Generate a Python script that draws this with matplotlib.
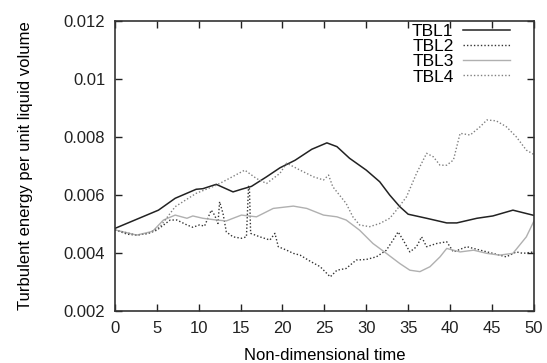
import matplotlib
matplotlib.use("Agg")
import matplotlib.pyplot as plt

plt.rcParams['font.family'] = ['Liberation Sans', 'DejaVu Sans']

# TBL1 (solid)
t1 = [0, 5.2, 7.2, 9.7, 10.5, 12.1, 14.1, 15.1, 16.3, 18.1, 19.7, 21.5, 23.5, 25.3, 26.5,
      28.0, 30.0, 31.6, 32.8, 34.0, 35.0, 37.2, 39.6, 40.8, 43.2, 45.1, 47.5, 50]
v1 = [0.00485, 0.00548, 0.00589, 0.0062, 0.00622, 0.00637, 0.00611, 0.0062, 0.0063, 0.00663,
      0.00694, 0.0072, 0.00758, 0.0078, 0.00767, 0.00727, 0.00686, 0.00646, 0.0060, 0.0056,
      0.00534, 0.0052, 0.00504, 0.00504, 0.0052, 0.00528, 0.00548, 0.0053]

# TBL2 (dark dotted)
t2 = [0, 1.5, 2.6, 4.0, 5.0, 6.6, 7.4, 8.6, 9.3, 10.1, 10.7, 11.5, 11.9, 12.3, 12.5, 12.9,
      13.3, 14.1, 15.1, 15.7, 15.95, 16.05, 16.2, 17.3, 18.5, 19.1, 19.5, 20.5, 21.3, 22.1,
      23.3, 24.5, 25.7, 26.5, 27.6, 28.8, 30.0, 31.2, 32.4, 33.2, 33.8, 34.4, 35.2, 36.0,
      36.6, 37.2, 38.4, 39.6, 40.4, 42.0, 43.6, 45.1, 46.7, 47.9, 48.7, 50]
v2 = [0.0048, 0.00465, 0.00462, 0.00468, 0.00479, 0.00514, 0.00514, 0.00497, 0.00489, 0.00497,
      0.00493, 0.00548, 0.00531, 0.00502, 0.00577, 0.00537, 0.00473, 0.00456, 0.00451, 0.00456,
      0.0063, 0.0063, 0.00468, 0.00456, 0.00445, 0.00468, 0.00422, 0.0041, 0.00399, 0.00393,
      0.00372, 0.00353, 0.00318, 0.00341, 0.00347, 0.00376, 0.00378, 0.00387, 0.0041, 0.00445,
      0.00473, 0.00445, 0.00404, 0.00422, 0.00456, 0.00422, 0.00433, 0.00439, 0.00404, 0.00422,
      0.0041, 0.00399, 0.00387, 0.00404, 0.00399, 0.00404]

# TBL3 (light grey)
t3 = [0, 2.6, 4.5, 5.8, 7.2, 8.6, 9.3, 10.5, 12.1, 13.3, 15.1, 16.9, 18.9, 21.3, 22.9, 24.9,
      26.5, 27.6, 29.2, 30.8, 32.4, 34.0, 35.2, 36.4, 37.6, 38.8, 39.6, 41.2, 42.8, 44.4,
      45.9, 47.5, 49.1, 50]
v3 = [0.0048, 0.00462, 0.00475, 0.00514, 0.00531, 0.0052, 0.00528, 0.0052, 0.00514, 0.00511,
      0.00531, 0.00525, 0.00554, 0.00562, 0.00554, 0.00531, 0.00525, 0.00514, 0.00479, 0.00433,
      0.00399, 0.00364, 0.00341, 0.00336, 0.00353, 0.00387, 0.00416, 0.00404, 0.0041, 0.00399,
      0.00393, 0.00399, 0.00456, 0.0051]

# TBL4 (grey dotted)
t4 = [0, 2.6, 4.0, 5.4, 7.2, 9.7, 12.1, 13.3, 15.5, 16.9, 18.1, 19.7, 20.5, 22.1, 23.7, 24.9,
      25.5, 26.0, 26.8, 27.6, 28.4, 29.2, 30.4, 31.6, 32.8, 33.6, 34.8, 36.0, 37.2, 38.0,
      38.8, 39.6, 40.4, 41.2, 42.4, 43.6, 44.4, 45.5, 46.7, 47.9, 49.1, 50]
v4 = [0.0048, 0.00462, 0.00468, 0.00491, 0.0056, 0.00606, 0.00634, 0.00652, 0.00686, 0.00657,
      0.0064, 0.00675, 0.0071, 0.00686, 0.00663, 0.00652, 0.00669, 0.00629, 0.0060, 0.00571,
      0.00525, 0.00497, 0.00491, 0.00502, 0.0052, 0.00548, 0.00594, 0.00675, 0.00744, 0.00732,
      0.00703, 0.00703, 0.00721, 0.00813, 0.00807, 0.00836, 0.00859, 0.00856, 0.00836, 0.00801,
      0.00755, 0.0074]

labels = ['TBL1', 'TBL2', 'TBL3', 'TBL4']
xticks = [0, 5, 10, 15, 20, 25, 30, 35, 40, 45, 50]
yticks = [0.002, 0.004, 0.006, 0.008, 0.01, 0.012]
ytick_labels = ['0.002', '0.004', '0.006', '0.008', '0.01', '0.012']

fig = plt.figure(figsize=(5.47, 3.63), dpi=100)
ax = fig.add_axes([0.210, 0.143, 0.766, 0.799])

ax.plot(t1, v1, color='#222222', lw=1.1, ls='-', label=labels[0])
ax.plot(t2, v2, color='#333333', lw=1.0, ls=(0, (1, 1.5)), label=labels[1])
ax.plot(t3, v3, color='#b0b0b0', lw=1.0, ls='-', label=labels[2])
ax.plot(t4, v4, color='#808080', lw=1.0, ls=(0, (1, 1.5)), label=labels[3])

ax.set_xlim(0, 50)
ax.set_ylim(0.002, 0.012)
ax.set_xticks(xticks)
ax.set_xticklabels([str(x) for x in xticks])
ax.set_yticks(yticks)
ax.set_yticklabels(ytick_labels)
ax.tick_params(direction='in', top=True, right=True, length=5, width=1,
               labelsize=12, pad=7, colors='#222222')
for s in ax.spines.values():
    s.set_linewidth(1.2)
    s.set_color('#333333')

ax.set_xlabel('Non-dimensional time', fontsize=12, labelpad=9)
ax.set_ylabel('Turbulent energy per unit liquid volume', fontsize=12, labelpad=22)

ax.legend(loc='upper right', frameon=False, markerfirst=False, fontsize=12.5,
          handlelength=2.7, handletextpad=0.55, labelspacing=0.0,
          borderaxespad=0.0, borderpad=0.0, bbox_to_anchor=(0.943, 0.99))

fig.savefig('out.png', dpi=100)
